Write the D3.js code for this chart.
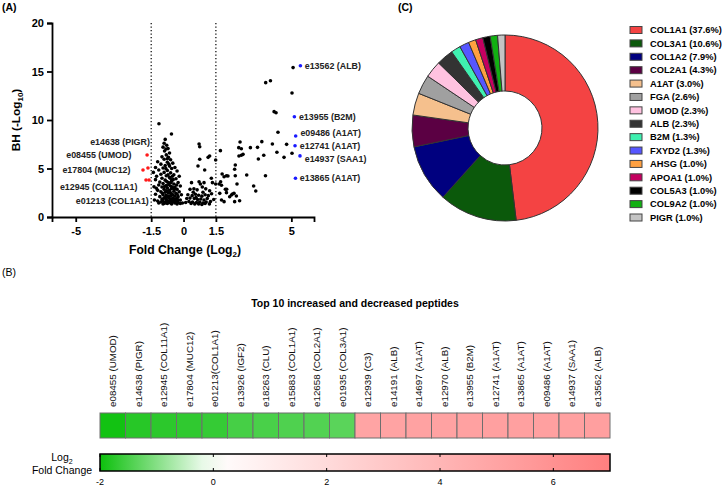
<!DOCTYPE html>
<html><head><meta charset="utf-8">
<script src="https://cdn.jsdelivr.net/npm/d3@7"></script>
<style>body{margin:0;background:#fff}svg{display:block;font-family:"Liberation Sans",Arial,sans-serif}</style>
</head><body><svg id="c" width="722" height="486"></svg>
<script>
// ---------- Panel A : volcano ----------
const blackPoints = [
[-1.14,9.62],[-0.56,8.55],[-0.85,8.0],[-0.9,7.6],[-0.78,7.4],[-0.95,7.2],[-0.72,7.05],[-0.88,6.8],[-0.65,6.6],[-0.8,6.4],[-1.0,6.2],[-0.7,6.15],[-0.9,5.95],[-0.6,5.9],[-1.2,5.7],[-0.75,5.65],[-0.5,5.55],[-1.05,5.45],[-0.85,5.3],[-0.65,5.25],[-1.3,5.1],[-0.95,5.05],[-0.55,5.0],[-0.4,5.1],[-1.15,4.85],[-0.75,4.8],[-0.3,4.75],[-1.4,4.6],[-0.9,4.6],[-0.6,4.55],[-1.05,4.4],[-0.45,4.35],[-0.8,4.25],[-1.25,4.2],[-0.2,4.2],[-0.65,4.1],[-1.0,4.0],[-0.35,3.95],[-1.3,3.85],[-0.85,3.8],[-0.55,3.75],[-1.1,3.6],[-0.7,3.55],[-0.25,3.55],[-0.95,3.45],[-0.45,3.4],[-1.37,3.12],[-1.26,2.96],[-1.15,3.3],[-0.8,3.25],[-0.6,3.2],[-0.15,3.2],[-1.0,3.1],[-0.4,3.05],[-0.75,3.0],[-0.55,2.95],[-0.9,2.85],[-0.3,2.85],[-1.2,2.75],[-0.65,2.75],[-0.45,2.65],[-1.05,2.6],[-0.85,2.55],[-0.2,2.6],[-0.7,2.5],[-0.35,2.45],[-0.55,2.4],[-1.3,2.35],[-0.95,2.3],[-0.8,2.25],[-0.1,2.3],[-0.6,2.2],[-0.4,2.15],[-1.1,2.1],[-0.25,2.1],[-0.75,2.05],[-0.9,1.95],[-0.5,1.95],[-0.65,1.9],[-0.3,1.9],[-1.0,1.85],[-1.35,1.75],[-0.8,1.8],[-0.45,1.75],[-0.15,1.75],[-0.6,1.7],[-1.2,1.65],[-0.95,1.65],[-0.35,1.65],[-0.7,1.6],[-0.5,1.55],[-1.05,1.55],[-0.85,1.5],[-0.25,1.5],[-0.6,1.45],[-0.4,1.45],[-1.15,1.45],[-0.75,1.4],[-0.05,1.45],[-0.95,1.35],[-0.55,1.35],[-0.3,1.35],[-0.15,1.4],
[-0.88,1.42],[-0.68,1.52],[-0.48,1.62],[-0.28,1.72],[-0.78,1.62],[-0.58,1.82],[-0.38,1.85],[-0.98,1.75],[-0.7,2.15],[-0.5,2.3],[-0.85,2.05],[-0.3,2.35],[-0.62,2.55],[-0.42,2.85],[-0.78,2.7],[-0.98,2.45],[-0.52,3.1],[-0.68,3.35],[-0.88,3.15],[-0.32,3.3],[-0.58,3.55],[-0.78,3.65],[-0.48,3.85],[-0.62,4.0],[-0.72,4.35],[-0.52,4.2],[-0.82,5.0],[-0.68,5.45],[-0.75,6.0],[-0.82,7.0],
[0.72,7.53],[0.75,7.25],[1.21,6.29],[1.14,6.15],[0.75,5.95],[1.49,5.88],[0.67,5.26],[0.98,4.85],[1.29,3.99],[1.34,3.54],[0.37,3.54],[0.72,3.64],[0.78,3.4],[0.95,3.54],[0.48,2.9],[0.63,2.8],[0.3,2.85],[0.87,3.1],[1.03,2.9],[1.21,2.7],[0.2,2.3],[0.4,2.2],[0.55,2.35],[0.7,2.25],[0.85,2.15],[1.0,2.3],[1.15,2.2],[1.3,2.4],[0.3,1.95],[0.5,1.9],[0.65,1.8],[0.8,1.85],[0.95,1.75],[1.1,1.9],[1.4,1.8],[0.25,1.6],[0.42,1.55],[0.6,1.5],[0.75,1.55],[0.9,1.45],[1.05,1.55],[1.25,1.6],[0.35,1.4],[0.52,1.35],[0.7,1.35],[0.85,1.3],[1.0,1.4],[0.1,1.5],[0.15,1.9],[1.2,1.35],[0.58,2.0],[0.9,2.55],[0.45,2.55],
[1.71,6.84],[1.79,4.43],[1.88,4.15],[1.99,4.26],[2.06,4.23],[1.49,3.4],[1.76,3.27],[2.48,3.4],[3.25,3.2],[3.35,2.68],[2.0,2.86],[1.68,2.44],[2.22,2.27],[2.34,2.44],[2.45,2.16],[1.76,1.75],[1.88,1.58],[2.14,2.09],[2.37,1.58],[2.6,1.68],[2.4,5.36],[2.37,4.92],[2.4,4.26],[2.93,4.33],[3.8,4.26],[1.72,3.64],[1.65,3.4],[1.94,2.86],[1.99,2.51],[2.27,2.37],[2.62,7.73],[2.56,7.15],[2.68,7.04],[2.76,6.46],[2.57,6.29],[2.68,6.36],[3.1,7.15],[3.43,7.18],[3.63,7.77],[3.47,5.98],[3.72,6.36],[4.12,7.53],[4.38,8.73],[4.33,6.67],[4.66,6.15],[4.78,7.49],[5.03,6.57],[4.2,10.86],[4.29,10.75],[5.03,12.78],[3.81,13.85],[4.03,14.05],[5.08,15.4]
];
const redPoints = [[-1.69,6.39],[-1.88,4.85],[-1.65,5.05],[-1.74,3.81],[-1.6,3.81]];
const bluePoints = [[5.42,15.6],[5.14,10.34],[5.2,8.35],[5.17,7.35],[5.4,6.3],[5.19,3.99]];
const leftLabels = [
  {t:"e14638 (PIGR)",x:-1.56,y:7.76},{t:"e08455 (UMOD)",x:-2.42,y:6.39},{t:"e17804 (MUC12)",x:-2.46,y:4.85},
  {t:"e12945 (COL11A1)",x:-2.14,y:3.12},{t:"e01213 (COL1A1)",x:-1.61,y:1.65}];
const rightLabels = [
  {t:"e13562 (ALB)",x:5.62,y:15.57},{t:"e13955 (B2M)",x:5.35,y:10.31},{t:"e09486 (A1AT)",x:5.42,y:8.66},
  {t:"e12741 (A1AT)",x:5.39,y:7.32},{t:"e14937 (SAA1)",x:5.62,y:5.98},{t:"e13865 (A1AT)",x:5.39,y:4.02}];
const xTicks = [-5,-1.5,0,1.5,5];
const yTicks = [0,5,10,15,20];
const thresholds = [-1.5,1.5];

// ---------- Panel C : donut ----------
const pieNames = ["COL1A1","COL3A1","COL1A2","COL2A1","A1AT","FGA","UMOD","ALB","B2M","FXYD2","AHSG","APOA1","COL5A3","COL9A2","PIGR"];
const pieValues = [37.6,10.6,7.9,4.3,3.0,2.6,2.3,2.3,1.3,1.3,1.0,1.0,1.0,1.0,1.0];
const pieColors = ["#f44343","#0b590b","#00007f","#5b0043","#f5c08d","#a0a0a0","#ffc2e0","#333333","#3ff0b0","#5656ff","#ffa040","#c40060","#000000","#12b012","#c4c4c4"];

// ---------- Panel B : heatmap ----------
const heatNames = ["e08455 (UMOD)","e14638 (PIGR)","e12945 (COL11A1)","e17804 (MUC12)","e01213(COL1A1)","e13926 (IGF2)","e18263 (CLU)","e15883 (COL1A1)","e12658 (COL2A1)","e01935 (COL3A1)",
  "e12939 (C3)","e14191 (ALB)","e14697 (A1AT)","e12970 (ALB)","e13955 (B2M)","e12741 (A1AT)","e13865 (A1AT)","e09486 (A1AT)","e14937 (SAA1)","e13562 (ALB)"];
const heatValues = [-1.95,-1.78,-1.74,-1.7,-1.66,-1.52,-1.5,-1.45,-1.42,-1.36, 5.0,5.05,5.1,5.1,5.14,5.17,5.19,5.2,5.2,5.25];
const cbTicks = [-2,0,2,4,6];

const svg = d3.select("#c");
svg.append("rect").attr("width",722).attr("height",486).attr("fill","#fff");
const F = '"Liberation Sans",Arial,sans-serif';

// panel letters
svg.append("text").attr("x",2).attr("y",11).attr("font-size",10.5).attr("font-weight","bold").text("(A)");
svg.append("text").attr("x",2).attr("y",276).attr("font-size",10.5).text("(B)");
svg.append("text").attr("x",398).attr("y",11).attr("font-size",10.5).attr("font-weight","bold").text("(C)");

// ---- volcano
const x = d3.scaleLinear().domain([-6.1,6.05]).range([52,314]);
const y = d3.scaleLinear().domain([0,20]).range([217,23]);
const gA = svg.append("g");
thresholds.forEach(t=>{
  gA.append("line").attr("x1",x(t)).attr("x2",x(t)).attr("y1",y(20)).attr("y2",y(0))
    .attr("stroke","#000").attr("stroke-width",1.2).attr("stroke-dasharray","1.2,2.3");
});
const ax = gA.append("g").attr("transform","translate(0,217)")
  .call(d3.axisBottom(x).tickValues(xTicks).tickSize(5).tickFormat(d=>String(d)));
const ay = gA.append("g").attr("transform","translate(52,0)")
  .call(d3.axisLeft(y).tickValues(yTicks).tickSize(5).tickFormat(d=>String(d)));
[ax,ay].forEach(a=>{
  a.select(".domain").attr("stroke","#000").attr("stroke-width",1.8);
  a.selectAll(".tick line").attr("stroke","#000").attr("stroke-width",1.8);
  a.selectAll(".tick text").attr("font-size",11).attr("font-weight","bold").attr("fill","#000").attr("font-family",F);
});
ax.selectAll(".tick text").attr("dy","0.9em");
gA.selectAll(".pb").data(blackPoints).join("circle").attr("cx",d=>x(d[0])).attr("cy",d=>y(d[1])).attr("r",1.8).attr("fill","#000");
gA.selectAll(".pr").data(redPoints).join("circle").attr("cx",d=>x(d[0])).attr("cy",d=>y(d[1])).attr("r",1.8).attr("fill","#ff1a1a");
gA.selectAll(".pbl").data(bluePoints).join("circle").attr("cx",d=>x(d[0])).attr("cy",d=>y(d[1])).attr("r",1.8).attr("fill","#1a1aff");
gA.selectAll(".ll").data(leftLabels).join("text").attr("x",d=>x(d.x)).attr("y",d=>y(d.y)).attr("dy","0.35em")
  .attr("text-anchor","end").attr("font-size",8.9).attr("font-weight","bold").attr("fill","#222").text(d=>d.t);
gA.selectAll(".rl").data(rightLabels).join("text").attr("x",d=>x(d.x)).attr("y",d=>y(d.y)).attr("dy","0.35em")
  .attr("text-anchor","start").attr("font-size",8.9).attr("font-weight","bold").attr("fill","#222").text(d=>d.t);
// axis titles
const yt = gA.append("text").attr("transform","translate(20,120) rotate(-90)").attr("text-anchor","middle")
  .attr("font-size",11.8).attr("font-weight","bold");
yt.append("tspan").text("BH (-Log");
yt.append("tspan").attr("font-size",8).attr("dy",3).text("10");
yt.append("tspan").attr("dy",-3).text(")");
const xt = gA.append("text").attr("x",185).attr("y",254).attr("text-anchor","middle").attr("font-size",12.2).attr("font-weight","bold");
xt.append("tspan").text("Fold Change (Log");
xt.append("tspan").attr("font-size",8).attr("dy",3).text("2");
xt.append("tspan").attr("dy",-3).text(")");

// ---- donut
const gC = svg.append("g").attr("transform","translate(505,128)");
const pie = d3.pie().sort(null).value(d=>d);
const arc = d3.arc().innerRadius(37).outerRadius(93);
gC.selectAll("path").data(pie(pieValues)).join("path").attr("d",arc)
  .attr("fill",(d,i)=>pieColors[i]).attr("stroke","#333").attr("stroke-width",1);
const leg = svg.append("g");
const ly = d3.scaleLinear().domain([0,pieNames.length-1]).range([30,217.5]);
pieNames.forEach((n,i)=>{
  leg.append("rect").attr("x",630).attr("y",ly(i)-3.5).attr("width",12).attr("height",7)
    .attr("fill",pieColors[i]).attr("stroke","#444").attr("stroke-width",1);
  leg.append("text").attr("x",650).attr("y",ly(i)).attr("dy","0.35em").attr("font-size",9.3).attr("font-weight","bold")
    .text(`${n} (${pieValues[i].toFixed(1)}%)`);
});

// ---- heatmap
const color = d3.scaleLinear().domain([-2,0,7]).range(["#0cc00c","#ffffff","#ff7f7f"]);
svg.append("text").attr("x",355).attr("y",307).attr("text-anchor","middle").attr("font-size",10.5).attr("font-weight","bold")
  .text("Top 10 increased and decreased peptides");
const hx = d3.scaleBand().domain(heatNames).range([100,610]);
const gB = svg.append("g");
gB.selectAll("rect").data(heatNames).join("rect").attr("x",d=>hx(d)).attr("y",413).attr("width",hx.bandwidth()).attr("height",25)
  .attr("fill",(d,i)=>color(heatValues[i])).attr("stroke","#6e6e6e").attr("stroke-width",1);
gB.selectAll("text").data(heatNames).join("text")
  .attr("transform",d=>`translate(${hx(d)+hx.bandwidth()/2+3.5},407) rotate(-90)`)
  .attr("font-size",9.8).attr("fill","#111").text(d=>d);

// colorbar
const cx = d3.scaleLinear().domain([-2,7]).range([100,610]);
const grad = svg.append("defs").append("linearGradient").attr("id","cb");
d3.range(0,1.0001,0.05).forEach(t=>{
  grad.append("stop").attr("offset",t).attr("stop-color",color(-2+9*t));
});
svg.append("rect").attr("x",100).attr("y",454).attr("width",510).attr("height",17)
  .attr("fill","url(#cb)").attr("stroke","#000").attr("stroke-width",1.5);
cbTicks.forEach(t=>{
  svg.append("line").attr("x1",cx(t)).attr("x2",cx(t)).attr("y1",454).attr("y2",457).attr("stroke","#000");
  svg.append("line").attr("x1",cx(t)).attr("x2",cx(t)).attr("y1",468).attr("y2",471).attr("stroke","#000");
  svg.append("text").attr("x",cx(t)).attr("y",485).attr("text-anchor","middle").attr("font-size",9).text(String(t));
});
const cl = svg.append("text").attr("x",62).attr("y",461).attr("text-anchor","middle").attr("font-size",10.5);
cl.append("tspan").text("Log");
cl.append("tspan").attr("font-size",7).attr("dy",2.5).text("2");
svg.append("text").attr("x",62).attr("y",474).attr("text-anchor","middle").attr("font-size",10.5).text("Fold Change");
</script></body></html>
